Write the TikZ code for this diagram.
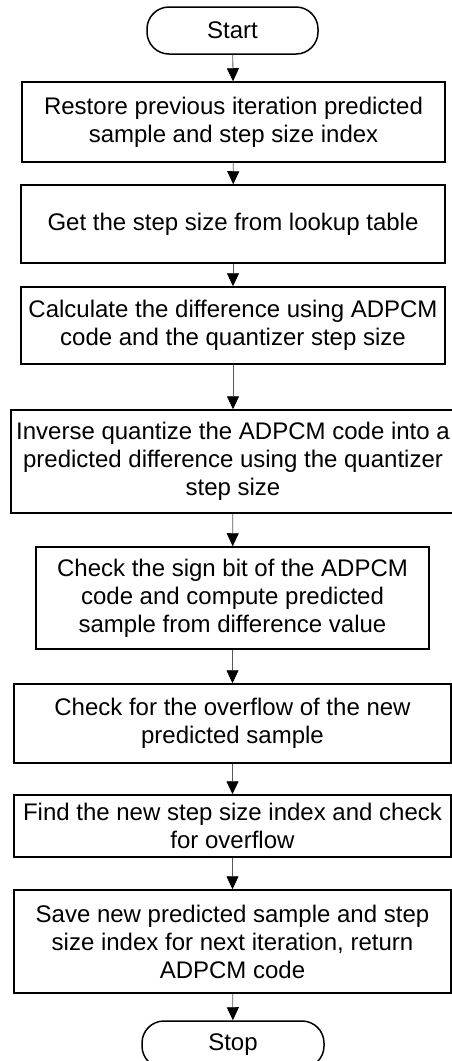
\documentclass[tikz,border=0pt]{standalone}
\usepackage{fontspec}
\setmainfont{Liberation Sans}
\usepackage{tikz}
\usetikzlibrary{arrows.meta}

\begin{document}
\begin{tikzpicture}[x=1pt,y=-1pt,
    box/.style={draw, line width=1.5pt, align=center, inner sep=0pt, font=\fontsize{24}{28}\selectfont},
    term/.style={box, rounded corners=22pt, minimum height=47pt},
    flow/.style={draw=black!65, line width=0.8pt, -{Triangle[length=13pt,width=12pt,color=black]}}]
    \useasboundingbox (0,0) rectangle (452,1061);

    \node[term, minimum width=171pt] (start) at (232.5,30.5) {Start};
    \node[box, minimum width=423pt, minimum height=80pt] (restore) at (233.5,122) {Restore previous iteration predicted\\sample and step size index};
    \node[box, minimum width=424pt, minimum height=78pt] (lookup) at (233,224) {Get the step size from lookup table};
    \node[box, minimum width=424pt, minimum height=77pt] (diff) at (233,325.5) {Calculate the difference using ADPCM\\code and the quantizer step size};
    \node[box, minimum width=444pt, minimum height=103pt] (invq) at (233,461.5) {Inverse quantize the ADPCM code into a\\predicted difference using the quantizer\\step size};
    \node[box, minimum width=393pt, minimum height=102pt] (sign) at (232.5,598) {Check the sign bit of the ADPCM\\code and compute predicted\\sample from difference value};
    \node[box, minimum width=437pt, minimum height=79pt] (ovf) at (232.5,723.5) {Check for the overflow of the new\\predicted sample};
    \node[box, minimum width=437pt, minimum height=62pt] (newindex) at (232.5,826) {Find the new step size index and check\\for overflow};
    \node[box, minimum width=437pt, minimum height=103pt] (save) at (232.5,941.5) {Save new predicted sample and step\\size index for next iteration, return\\ADPCM code};
    \node[term, minimum width=182pt] (stop) at (233,1044.5) {Stop};

    \draw[flow] (start) -- (restore);
    \draw[flow] (restore) -- (lookup);
    \draw[flow] (lookup) -- (diff);
    \draw[flow] (diff) -- (invq);
    \draw[flow] (invq) -- (sign);
    \draw[flow] (sign) -- (ovf);
    \draw[flow] (ovf) -- (newindex);
    \draw[flow] (newindex) -- (save);
    \draw[flow] (save) -- (stop);
\end{tikzpicture}
\end{document}
